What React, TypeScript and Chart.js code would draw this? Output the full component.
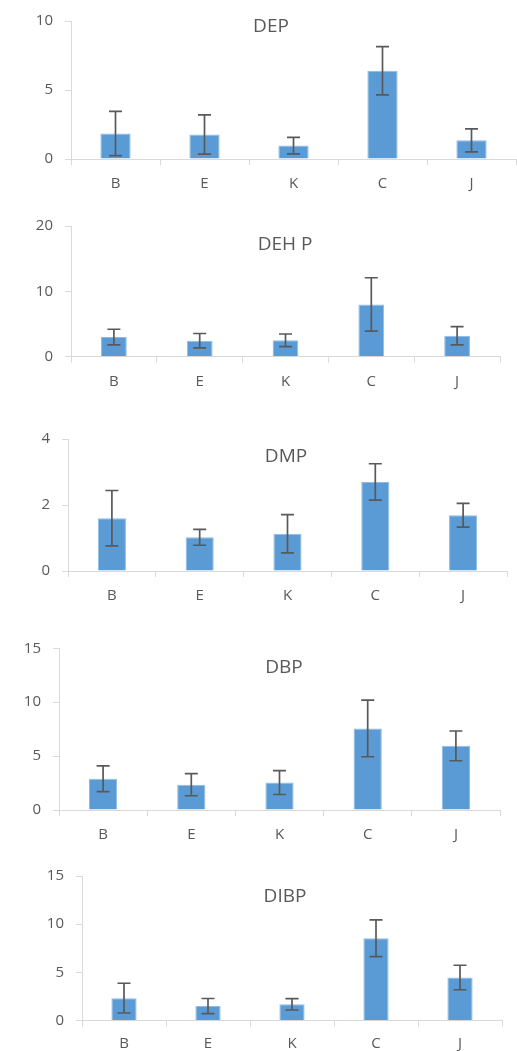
import React, { useEffect, useRef } from 'react';
import { Chart, registerables } from 'chart.js';

Chart.register(...registerables);

// ---------- data ----------
const categories = ['B', 'E', 'K', 'C', 'J'];

const depMeans = [1.85, 1.78, 0.97, 6.4, 1.35];
const depErrors = [1.6, 1.42, 0.6, 1.75, 0.83];

const dehpMeans = [3.0, 2.45, 2.5, 8.0, 3.2];
const dehpErrors = [1.2, 1.1, 0.97, 4.08, 1.4];

const dmpMeans = [1.6, 1.02, 1.13, 2.7, 1.69];
const dmpErrors = [0.84, 0.24, 0.58, 0.55, 0.36];

const dbpMeans = [2.9, 2.35, 2.55, 7.57, 5.95];
const dbpErrors = [1.19, 1.03, 1.11, 2.63, 1.38];

const dibpMeans = [2.34, 1.52, 1.7, 8.55, 4.48];
const dibpErrors = [1.54, 0.78, 0.59, 1.9, 1.27];

const panelTitles = ['DEP', 'DEH P', 'DMP', 'DBP', 'DIBP'];
const yMaxValues = [10, 20, 4, 15, 15];
const yStepSizes = [5, 10, 2, 5, 5];

const panelMeans = [depMeans, dehpMeans, dmpMeans, dbpMeans, dibpMeans];
const panelErrors = [depErrors, dehpErrors, dmpErrors, dbpErrors, dibpErrors];

// ---------- layout / style ----------
const FONT = "'Open Sans', 'Noto Sans', sans-serif";
const TEXT_COLOR = '#595959';
const AXIS_COLOR = '#d9d9d9';
const BAR_COLOR = '#5b9bd5';
const BAR_EDGE = '#8fbbe3';
const ERR_COLOR = '#595959';

const panelLayouts = [
  { top: 0, height: 200, plotTop: 17, zeroY: 159, left: 71, right: 516, titleX: 271, titleY: 27, barPct: 0.34, labelPad: 10 },
  { top: 200, height: 210, plotTop: 226, zeroY: 356.7, left: 71, right: 500, titleX: 285, titleY: 245, barPct: 0.3, labelPad: 10 },
  { top: 410, height: 210, plotTop: 439, zeroY: 571, left: 68, right: 507, titleX: 286, titleY: 457, barPct: 0.32, labelPad: 10 },
  { top: 620, height: 230, plotTop: 648.3, zeroY: 810, left: 59, right: 500, titleX: 284, titleY: 668, barPct: 0.32, labelPad: 10 },
  { top: 850, height: 201, plotTop: 876, zeroY: 1020.7, left: 82, right: 502, titleX: 285, titleY: 897, barPct: 0.3, labelPad: 8 },
];

function Panel({ index }: { index: number }) {
  const ref = useRef<HTMLCanvasElement | null>(null);
  const lay = panelLayouts[index];

  useEffect(() => {
    if (!ref.current) return;
    const means = panelMeans[index];
    const errors = panelErrors[index];
    const title = panelTitles[index];

    const errorBarPlugin = {
      id: 'errorBars' + index,
      afterDatasetsDraw(chart: any) {
        const meta = chart.getDatasetMeta(0);
        const yScale = chart.scales.y;
        const ctx = chart.ctx;
        ctx.save();
        ctx.strokeStyle = ERR_COLOR;
        ctx.lineWidth = 1.7;
        meta.data.forEach((bar: any, i: number) => {
          const x = bar.x;
          const yHi = yScale.getPixelForValue(means[i] + errors[i]);
          const yLo = yScale.getPixelForValue(means[i] - errors[i]);
          const cap = 6.5;
          ctx.beginPath();
          ctx.moveTo(x, yHi);
          ctx.lineTo(x, yLo);
          ctx.moveTo(x - cap, yHi);
          ctx.lineTo(x + cap, yHi);
          ctx.moveTo(x - cap, yLo);
          ctx.lineTo(x + cap, yLo);
          ctx.stroke();
        });
        ctx.restore();
      },
    };

    const titlePlugin = {
      id: 'innerTitle' + index,
      afterDraw(chart: any) {
        const ctx = chart.ctx;
        ctx.save();
        ctx.fillStyle = TEXT_COLOR;
        ctx.font = `19px ${FONT}`;
        ctx.textAlign = 'center';
        ctx.textBaseline = 'middle';
        ctx.fillText(title, lay.titleX, lay.titleY - lay.top);
        ctx.restore();
      },
    };

    const chart = new Chart(ref.current, {
      type: 'bar',
      data: {
        labels: categories,
        datasets: [
          {
            data: means,
            backgroundColor: BAR_COLOR,
            borderColor: BAR_EDGE,
            borderWidth: 1,
            categoryPercentage: 1,
            barPercentage: lay.barPct,
          },
        ],
      },
      options: {
        animation: false,
        responsive: false,
        devicePixelRatio: 1,
        layout: {
          padding: { left: 0, right: 517 - lay.right, top: lay.plotTop - lay.top, bottom: 0 },
        },
        plugins: {
          legend: { display: false },
          title: { display: false },
          tooltip: { enabled: false },
        },
        scales: {
          x: {
            grid: { drawOnChartArea: false, drawTicks: true, tickLength: 6, color: AXIS_COLOR, offset: true },
            border: { color: AXIS_COLOR, width: 1 },
            ticks: { color: TEXT_COLOR, font: { family: FONT, size: 15 }, padding: lay.labelPad },
            afterFit: (s: any) => {
              s.height = lay.top + lay.height - lay.zeroY;
            },
          },
          y: {
            min: 0,
            max: yMaxValues[index],
            grid: { drawOnChartArea: false, drawTicks: true, tickLength: 6, color: AXIS_COLOR },
            border: { color: AXIS_COLOR, width: 1 },
            ticks: {
              stepSize: yStepSizes[index],
              color: TEXT_COLOR,
              font: { family: FONT, size: 15 },
              padding: 12,
            },
            afterFit: (s: any) => {
              s.width = lay.left;
            },
          },
        },
      },
      plugins: [errorBarPlugin, titlePlugin],
    });
    return () => chart.destroy();
  }, [index]);

  return (
    <canvas
      ref={ref}
      width={517}
      height={lay.height}
      style={{ position: 'absolute', left: 0, top: lay.top, width: 517, height: lay.height }}
    />
  );
}

export default function App() {
  return (
    <div style={{ position: 'absolute', left: 0, top: 0, width: 517, height: 1051, background: '#fff', overflow: 'hidden' }}>
      {panelLayouts.map((_, i) => (
        <Panel key={i} index={i} />
      ))}
    </div>
  );
}
